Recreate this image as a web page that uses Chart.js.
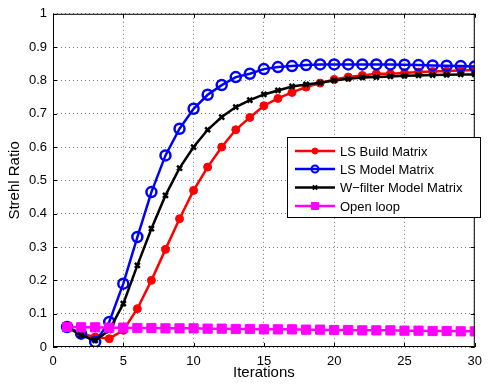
<!DOCTYPE html>
<html><head><meta charset="utf-8">
<script src="https://cdn.jsdelivr.net/npm/chart.js@4/dist/chart.umd.min.js"></script>
<style>html,body{margin:0;padding:0;background:#fff}#wrap{width:489px;height:388px}</style>
</head><body><div id="wrap"><canvas id="c" width="489" height="388"></canvas></div>
<script>
const iterations = [1,2,3,4,5,6,7,8,9,10,11,12,13,14,15,16,17,18,19,20,21,22,23,24,25,26,27,28,29,30];
const lsBuild = [0.06,0.04,0.03,0.025,0.05,0.115,0.2,0.293,0.385,0.47,0.54,0.6,0.652,0.689,0.724,0.746,0.764,0.78,0.792,0.803,0.81,0.815,0.82,0.82,0.822,0.825,0.827,0.828,0.83,0.831];
const lsModel = [0.06,0.04,0.015,0.075,0.19,0.33,0.465,0.575,0.655,0.715,0.757,0.786,0.81,0.82,0.834,0.84,0.843,0.846,0.848,0.848,0.848,0.848,0.848,0.848,0.847,0.846,0.845,0.844,0.843,0.842];
const wFilter = [0.06,0.035,0.02,0.05,0.13,0.245,0.355,0.455,0.537,0.6,0.652,0.69,0.72,0.741,0.758,0.77,0.782,0.788,0.793,0.8,0.805,0.809,0.81,0.812,0.814,0.815,0.816,0.817,0.818,0.818];
const openLoop = [0.06,0.059,0.059,0.058,0.058,0.057,0.057,0.056,0.056,0.056,0.055,0.055,0.054,0.054,0.053,0.053,0.053,0.052,0.052,0.051,0.051,0.05,0.05,0.05,0.049,0.049,0.048,0.048,0.047,0.047];
const xTicks = [0,5,10,15,20,25,30];
const yTicks = [0,0.1,0.2,0.3,0.4,0.5,0.6,0.7,0.8,0.9,1];
const seriesNames = ['LS Build Matrix','LS Model Matrix','W\u2212filter Model Matrix','Open loop'];

const FONT = 'Liberation Sans, Arial, sans-serif';
const pts = a => a.map((v,i)=>({x:iterations[i],y:v}));
const styles = [
  {color:'#ff0000', pointStyle:'circle', pointRadius:4, fill:'#ff0000', pbw:1, order:4},
  {color:'#0000ff', pointStyle:'circle', pointRadius:5, fill:'rgba(0,0,0,0)', pbw:2.5, order:3},
  {color:'#000000', pointStyle:'crossRot', pointRadius:3.5, fill:'#000', pbw:2.5, order:2},
  {color:'#ff00ff', pointStyle:'rect', pointRadius:6.5, fill:'#ff00ff', pbw:1, order:1}
];
const seriesData = [lsBuild, lsModel, wFilter, openLoop];
const datasets = seriesData.map((d,i)=>({
  label: seriesNames[i], data: pts(d), borderColor: styles[i].color, backgroundColor: styles[i].fill,
  borderWidth: 2.5, pointStyle: styles[i].pointStyle, pointRadius: styles[i].pointRadius,
  pointBorderWidth: styles[i].pbw, pointBorderColor: styles[i].color, pointBackgroundColor: styles[i].fill,
  order: styles[i].order, tension: 0
}));

const frame = {
  id:'frame',
  afterDraw(chart){
    const {ctx, chartArea:a, scales:{x,y}} = chart;
    ctx.save();
    ctx.strokeStyle='#000'; ctx.lineWidth=1;
    ctx.strokeRect(a.left+0.5, a.top+0.5, a.right-a.left-1, a.bottom-a.top-1);
    ctx.beginPath();
    xTicks.forEach(t=>{const px=Math.round(x.getPixelForValue(t))+0.5; ctx.moveTo(px,a.bottom); ctx.lineTo(px,a.bottom-4); ctx.moveTo(px,a.top); ctx.lineTo(px,a.top+4);});
    yTicks.forEach(t=>{const py=Math.round(y.getPixelForValue(t))+0.5; ctx.moveTo(a.left,py); ctx.lineTo(a.left+4,py); ctx.moveTo(a.right,py); ctx.lineTo(a.right-4,py);});
    ctx.stroke();
    const L=287, T=137, R=480, B=217;
    ctx.fillStyle='#fff'; ctx.fillRect(L,T,R-L,B-T);
    ctx.strokeRect(L+0.5,T+0.5,R-L,B-T);
    const rows=[151,169,187.5,206];
    ctx.font='13px '+FONT; ctx.textBaseline='middle'; ctx.textAlign='left';
    chart.data.datasets.forEach((ds,i)=>{
      const yy=rows[i];
      ctx.strokeStyle=ds.borderColor; ctx.lineWidth=2.5;
      ctx.beginPath(); ctx.moveTo(295,yy); ctx.lineTo(335,yy); ctx.stroke();
      ctx.fillStyle=ds.pointBackgroundColor; ctx.strokeStyle=ds.borderColor; ctx.lineWidth=ds.pointBorderWidth>1.5?2:1;
      Chart.helpers.drawPoint(ctx,{pointStyle:ds.pointStyle,radius:i===1?3.5:(i===3?5:3),borderWidth:ctx.lineWidth,rotation:0},315,yy);
      ctx.fillStyle='#000';
      ctx.fillText(ds.label,340,yy+1);
    });
    ctx.restore();
  }
};

new Chart(document.getElementById('c'),{
  type:'line',
  data:{datasets},
  options:{
    responsive:false, animation:false, devicePixelRatio:1,
    layout:{padding:{top:7,right:6,left:0,bottom:0}},
    plugins:{legend:{display:false}, tooltip:{enabled:false}},
    scales:{
      x:{type:'linear',min:0,max:30,
        afterBuildTicks:s=>{s.ticks=xTicks.map(v=>({value:v}));},
        afterFit:s=>{s.height=41;},
        grid:{color:'#777',lineWidth:1,drawTicks:false,tickLength:0},
        border:{display:false, dash:[1,3]},
        ticks:{color:'#000',font:{family:FONT,size:13},padding:7,maxRotation:0},
        title:{display:true,text:'Iterations',color:'#000',font:{family:FONT,size:15},padding:{top:0,bottom:6}}
      },
      y:{type:'linear',min:0,max:1,
        afterBuildTicks:s=>{s.ticks=yTicks.map(v=>({value:v}));},
        afterFit:s=>{s.width=53;},
        grid:{color:'#777',lineWidth:1,drawTicks:false,tickLength:0},
        border:{display:false, dash:[1,3]},
        ticks:{color:'#000',font:{family:FONT,size:13},padding:6,callback:v=>String(Math.round(v*10)/10)},
        title:{display:true,text:'Strehl Ratio',color:'#000',font:{family:FONT,size:15},padding:{top:6,bottom:0}}
      }
    }
  },
  plugins:[frame]
});
</script></body></html>
